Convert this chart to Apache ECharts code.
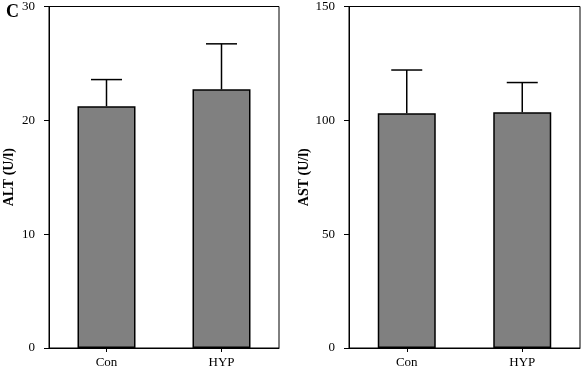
<!DOCTYPE html>
<html>
<head>
<meta charset="utf-8">
<script src="https://cdn.jsdelivr.net/npm/echarts@6/dist/echarts.min.js"></script>
<style>html,body{margin:0;padding:0;background:#fff}#c{width:581px;height:369px}</style>
</head>
<body>
<div id="c"></div>
<script>
var categories = ['Con', 'HYP'];
var altMean = [21.24, 22.72];
var altErr = [2.34, 4.0];
var astMean = [103.1, 103.5];
var astErr = [19.0, 13.1];
var altTicks = [0, 10, 20, 30];
var astTicks = [0, 50, 100, 150];
var panelLabel = 'C';

var FONT = 'Liberation Serif';
var chart = echarts.init(document.getElementById('c'), null, {renderer: 'canvas'});

function errRender(params, api) {
  var x = api.value(0), m = api.value(1), e = api.value(2);
  var p0 = api.coord([x, m]);
  var p1 = api.coord([x, m + e]);
  var half = 15.5;
  return {
    type: 'group',
    children: [
      {type: 'line', shape: {x1: p0[0], y1: p0[1], x2: p1[0], y2: p1[1]}, style: {stroke: '#000', lineWidth: 1.5}},
      {type: 'line', shape: {x1: p1[0] - half, y1: p1[1], x2: p1[0] + half, y2: p1[1]}, style: {stroke: '#000', lineWidth: 1.5}}
    ]
  };
}

function yAxis(gi, ticks, name, gap) {
  var max = ticks[ticks.length - 1];
  return {
    type: 'value', gridIndex: gi, min: 0, max: max, interval: ticks[1] - ticks[0],
    splitLine: {show: false},
    axisLine: {show: true, lineStyle: {color: '#000', width: 1}},
    axisTick: {show: true, inside: false, length: 5, lineStyle: {color: '#000'}},
    axisLabel: {margin: 14, color: '#000', fontFamily: FONT, fontSize: 13},
    name: name, nameLocation: 'middle', nameGap: gap, nameRotate: 90,
    nameTextStyle: {color: '#000', fontFamily: FONT, fontSize: 14, fontWeight: 'bold'}
  };
}
function xAxis(gi) {
  return {
    type: 'category', gridIndex: gi, data: categories,
    axisLine: {show: true, lineStyle: {color: '#000', width: 1}},
    axisTick: {show: true, alignWithLabel: true, length: 4, lineStyle: {color: '#000'}},
    axisLabel: {margin: 8, color: '#000', fontFamily: FONT, fontSize: 13}
  };
}

var option = {
  animation: false,
  backgroundColor: '#fff',
  title: {text: panelLabel, left: 1, top: -2, textStyle: {fontFamily: FONT, fontSize: 18, fontWeight: 'bold', color: '#000'}},
  grid: [
    {left: 49, right: 302, top: 5, bottom: 20, show: true, borderColor: '#000', borderWidth: 1, backgroundColor: 'transparent'},
    {left: 349, right: 1, top: 5, bottom: 20, show: true, borderColor: '#000', borderWidth: 1, backgroundColor: 'transparent'}
  ],
  xAxis: [xAxis(0), xAxis(1)],
  yAxis: [yAxis(0, altTicks, 'ALT (U/l)', 33), yAxis(1, astTicks, 'AST (U/l)', 32)],
  series: [
    {type: 'bar', xAxisIndex: 0, yAxisIndex: 0, data: altMean, barWidth: 58,
     itemStyle: {color: '#808080', borderColor: '#000', borderWidth: 1.5}},
    {type: 'custom', xAxisIndex: 0, yAxisIndex: 0, renderItem: errRender,
     data: altMean.map(function (m, i) { return [i, m, altErr[i]]; }), z: 3},
    {type: 'bar', xAxisIndex: 1, yAxisIndex: 1, data: astMean, barWidth: 58,
     itemStyle: {color: '#808080', borderColor: '#000', borderWidth: 1.5}},
    {type: 'custom', xAxisIndex: 1, yAxisIndex: 1, renderItem: errRender,
     data: astMean.map(function (m, i) { return [i, m, astErr[i]]; }), z: 3}
  ]
};
chart.setOption(option);
</script>
</body>
</html>
